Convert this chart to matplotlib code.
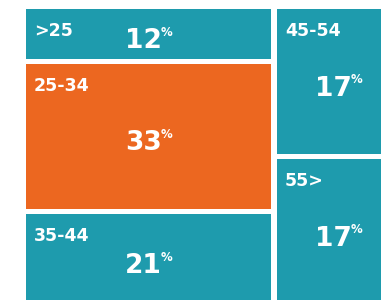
import matplotlib.pyplot as plt
from matplotlib.patches import Rectangle

labels = ['>25', '25-34', '35-44', '45-54', '55>']
values = [12, 33, 21, 17, 17]
column = [0, 0, 0, 1, 1]
colors = ['#1e9bad', '#ec6720', '#1e9bad', '#1e9bad', '#1e9bad']

plt.rcParams['font.family'] = ['DejaVu Sans']

fig = plt.figure(figsize=(3.81, 3.0), dpi=100)
ax = fig.add_axes([0, 0, 1, 1])
ax.set_xlim(0, 381)
ax.set_ylim(300, 0)
ax.axis('off')

# treemap area (pixel units), partly cropped by the figure
x0, y0, W, H = 26, 9, 380, 300
gx, gy = 6, 5
total = sum(values)
col_sums = {}
for c, v in zip(column, values):
    col_sums[c] = col_sums.get(c, 0) + v

cx = x0
ypos = {}
xpos = {}
for c in sorted(col_sums):
    xpos[c] = cx
    cx += W * col_sums[c] / total
    ypos[c] = y0

for lab, v, c, col in zip(labels, values, column, colors):
    w = W * col_sums[c] / total
    h = H * v / col_sums[c]
    rx, ry = xpos[c], ypos[c]
    ypos[c] += h
    ax.add_patch(Rectangle((rx, ry), w - gx, h - gy, facecolor=col, edgecolor='none'))
    ax.text(rx + 8, ry + 13, lab, color='white', fontsize=12.5, fontweight='bold',
            ha='left', va='top')
    mx = rx + (w - gx) / 2
    my = ry + (h - gy) / 2 + 4
    t = ax.text(mx - 5, my + 10, str(v), color='white', fontsize=19,
                fontweight='bold', ha='center', va='baseline')
    ax.annotate('%', xy=(1, 1), xycoords=t, xytext=(-1, 1.5), textcoords='offset points',
                color='white', fontsize=8.5, fontweight='bold', ha='left', va='top')

fig.savefig('out.png', dpi=100)
